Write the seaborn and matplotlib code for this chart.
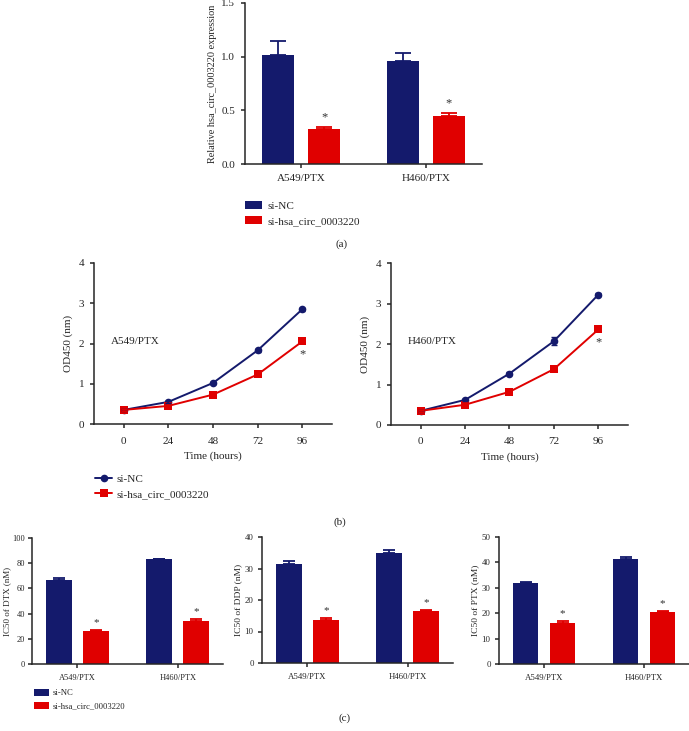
import numpy as np
import pandas as pd
import seaborn as sb
import matplotlib
matplotlib.use("Agg")
import matplotlib.pyplot as plt

# data
cells = ["A549/PTX", "H460/PTX"]
groups = ["si-NC", "si-hsa_circ_0003220"]
navy = "#141a6c"
red = "#e00000"

# (a) relative expression
expr_nc = [1.02, 0.96]
expr_nc_err = [0.13, 0.075]
expr_si = [0.33, 0.45]
expr_si_err = [0.015, 0.025]

# (b) CCK-8 curves
hours = [0, 24, 48, 72, 96]
a549_nc = [0.35, 0.55, 1.02, 1.83, 2.85]
a549_si = [0.35, 0.45, 0.73, 1.23, 2.05]
a549_nc_err = [0.02, 0.02, 0.03, 0.04, 0.04]
a549_si_err = [0.02, 0.02, 0.03, 0.04, 0.04]
h460_nc = [0.35, 0.62, 1.27, 2.07, 3.22]
h460_si = [0.35, 0.50, 0.82, 1.38, 2.36]
h460_nc_err = [0.02, 0.02, 0.03, 0.10, 0.04]
h460_si_err = [0.02, 0.02, 0.03, 0.04, 0.04]

# (c) IC50 values
dtx_nc = [66.3, 83.0]
dtx_nc_err = [1.8, 0.6]
dtx_si = [26.0, 34.5]
dtx_si_err = [0.9, 1.0]
ddp_nc = [31.5, 35.0]
ddp_nc_err = [0.9, 0.8]
ddp_si = [13.7, 16.5]
ddp_si_err = [0.6, 0.4]
ptx_nc = [31.7, 41.3]
ptx_nc_err = [0.6, 0.7]
ptx_si = [16.0, 20.4]
ptx_si_err = [0.8, 0.6]

sb.set_style("ticks")
plt.rcParams["font.family"] = ["Liberation Serif", "DejaVu Serif"]
plt.rcParams["axes.linewidth"] = 1.1
plt.rcParams["xtick.major.width"] = 1.1
plt.rcParams["ytick.major.width"] = 1.1

fig = plt.figure(figsize=(6.89, 7.31), dpi=100)
W, H = 689, 731


def pix_axes(x0, x1, y0, y1):
    return fig.add_axes([x0 / W, 1 - y1 / H, (x1 - x0) / W, (y1 - y0) / H])


def bar_panel(ax, nc, nc_err, si, si_err, ylim, yticks, ylabel, fs, lfs, capsize,
              star_off, star_fs, tick_fmt, ypad=4, lpad=3):
    df = pd.DataFrame({
        "cell": cells * 2,
        "group": [groups[0]] * 2 + [groups[1]] * 2,
        "value": nc + si,
    })
    sb.barplot(data=df, x="cell", y="value", hue="group", palette=[navy, red],
               width=0.74, gap=0.3, errorbar=None, ax=ax, legend=True,
               edgecolor="none", saturation=1)
    for cont, errs, col in zip(ax.containers, [nc_err, si_err], [navy, red]):
        xs = [p.get_x() + p.get_width() / 2 for p in cont.patches]
        hs = [p.get_height() for p in cont.patches]
        ax.errorbar(xs, hs, yerr=[[0] * len(errs), errs], fmt="none", ecolor=col,
                    elinewidth=1.3, capsize=capsize, capthick=1.3)
        if col == red:
            for x, h, e in zip(xs, hs, errs):
                ax.text(x, h + e + star_off, "*", ha="center", va="bottom",
                        fontsize=star_fs, color="#333333")
    ax.set_xlim(-0.45, 1.45)
    ax.set_ylim(*ylim)
    ax.set_yticks(yticks)
    ax.yaxis.set_major_formatter(tick_fmt)
    ax.set_xlabel("")
    ax.set_ylabel(ylabel, fontsize=lfs, labelpad=lpad)
    ax.tick_params(axis="x", labelsize=fs, length=3, pad=4)
    ax.tick_params(axis="y", labelsize=fs, length=3, pad=ypad)
    sb.despine(ax=ax)
    handles, labels = ax.get_legend_handles_labels()
    ax.get_legend().remove()
    return handles, labels


# ---------------------------------------------------------------- (a)
ax_a = pix_axes(245, 482, 3, 164)
h_a, l_a = bar_panel(ax_a, expr_nc, expr_nc_err, expr_si, expr_si_err, (0, 1.5),
                     [0, 0.5, 1.0, 1.5], "Relative hsa_circ_0003220 expression", 8, 7.4, 6,
                     0.03, 9, plt.FormatStrFormatter("%.1f"))
fig.legend(h_a, l_a, loc="upper left", bbox_to_anchor=(245 / W, 1 - 201 / H),
           frameon=False, fontsize=8, handlelength=1.55, handleheight=0.75,
           handletextpad=0.45, labelspacing=0.45, borderpad=0, borderaxespad=0)
fig.text(342 / W, 1 - 244 / H, "(a)", ha="center", va="center", fontsize=8)

# ---------------------------------------------------------------- (b)
def line_panel(ax, nc, si, nc_err, si_err, name, star_y):
    df = pd.DataFrame({
        "time": hours * 2,
        "group": [groups[0]] * 5 + [groups[1]] * 5,
        "od": nc + si,
    })
    sb.lineplot(data=df, x="time", y="od", hue="group", style="group",
                palette=[navy, red], markers=["o", "s"], dashes=False,
                markersize=5.5, markeredgewidth=0, linewidth=1.4, ax=ax)
    ax.errorbar(hours, nc, yerr=nc_err, fmt="none", ecolor=navy, elinewidth=1.1, capsize=2.5)
    ax.errorbar(hours, si, yerr=si_err, fmt="none", ecolor=red, elinewidth=1.1, capsize=2.5)
    ax.set_xlim(-16, 112)
    ax.set_ylim(0, 4)
    ax.set_xticks(hours)
    ax.set_yticks([0, 1, 2, 3, 4])
    ax.set_xlabel("Time (hours)", fontsize=8, labelpad=4)
    ax.set_ylabel("OD450 (nm)", fontsize=8, labelpad=4)
    ax.tick_params(axis="x", labelsize=8, length=3, pad=6)
    ax.tick_params(axis="y", labelsize=8, length=3, pad=4)
    ax.text(-7, 2.05, name, fontsize=8, va="center")
    ax.text(96, star_y, "*", ha="center", va="center", fontsize=9, color="#333333")
    sb.despine(ax=ax)
    handles, labels = ax.get_legend_handles_labels()
    ax.get_legend().remove()
    return handles, labels


ax_b1 = pix_axes(94, 332, 263, 424)
h_b, l_b = line_panel(ax_b1, a549_nc, a549_si, a549_nc_err, a549_si_err, "A549/PTX", 1.72)
ax_b2 = pix_axes(391, 628, 263, 425)
line_panel(ax_b2, h460_nc, h460_si, h460_nc_err, h460_si_err, "H460/PTX", 2.03)
fig.legend(h_b, l_b, loc="upper left", bbox_to_anchor=(95 / W, 1 - 474 / H),
           frameon=False, fontsize=8, handlelength=1.55, handletextpad=0.4,
           labelspacing=0.5, borderpad=0, borderaxespad=0)
fig.text(340 / W, 1 - 522 / H, "(b)", ha="center", va="center", fontsize=8)

# ---------------------------------------------------------------- (c)
ax_c1 = pix_axes(32, 223, 538, 664)
h_c, l_c = bar_panel(ax_c1, dtx_nc, dtx_nc_err, dtx_si, dtx_si_err, (0, 100),
                     [0, 20, 40, 60, 80, 100], "IC50 of DTX (nM)", 6.0, 6.5, 4, 2.5, 8,
                     plt.FormatStrFormatter("%d"), ypad=2, lpad=1)
ax_c2 = pix_axes(262, 453, 537, 663)
bar_panel(ax_c2, ddp_nc, ddp_nc_err, ddp_si, ddp_si_err, (0, 40),
          [0, 10, 20, 30, 40], "IC50 of DDP (nM)", 6.3, 6.8, 4, 1.0, 8,
          plt.FormatStrFormatter("%d"), ypad=3, lpad=2)
ax_c3 = pix_axes(499, 689, 537, 664)
bar_panel(ax_c3, ptx_nc, ptx_nc_err, ptx_si, ptx_si_err, (0, 50),
          [0, 10, 20, 30, 40, 50], "IC50 of PTX (nM)", 6.3, 6.8, 4, 1.2, 8,
          plt.FormatStrFormatter("%d"), ypad=3, lpad=2)
fig.legend(h_c, l_c, loc="upper left", bbox_to_anchor=(34 / W, 1 - 689 / H),
           frameon=False, fontsize=6.2, handlelength=1.75, handleheight=0.8,
           handletextpad=0.45, labelspacing=0.6, borderpad=0, borderaxespad=0)
fig.text(345 / W, 1 - 718 / H, "(c)", ha="center", va="center", fontsize=8)

plt.savefig("out.png", dpi=100)
